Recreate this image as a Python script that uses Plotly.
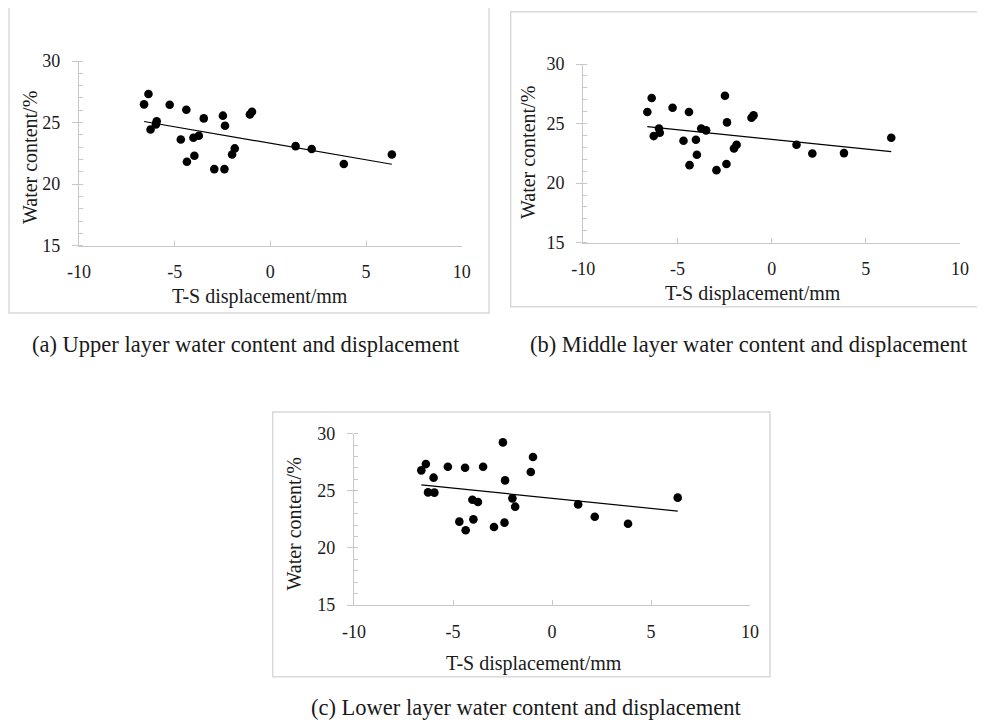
import numpy as np
import plotly.graph_objects as go

# ---- data ----
displacement = [-6.60, -6.37, -6.26, -5.98, -5.94, -5.26, -4.68, -4.39, -4.36, -4.02,
                -3.97, -3.74, -3.48, -2.93, -2.48, -2.40, -2.37, -2.00, -1.86, -1.07,
                -0.96, 1.32, 2.16, 3.84, 6.35]
upper_wc = [26.48, 27.32, 24.44, 24.85, 25.10, 26.45, 23.63, 26.04, 21.82, 23.77,
            22.30, 23.93, 25.34, 21.22, 25.56, 21.22, 24.74, 22.41, 22.90, 25.66,
            25.88, 23.09, 22.85, 21.63, 22.41]
middle_wc = [25.97, 27.14, 23.95, 24.59, 24.23, 26.33, 23.56, 25.97, 21.51, 23.64,
             22.38, 24.59, 24.43, 21.09, 27.34, 21.60, 25.10, 22.91, 23.22, 25.49,
             25.69, 23.22, 22.49, 22.52, 23.81]
lower_wc = [26.79, 27.34, 24.86, 26.15, 24.84, 27.11, 22.30, 27.02, 21.54, 24.22,
            22.50, 24.02, 27.11, 21.83, 29.24, 22.21, 25.91, 24.34, 23.61, 26.64,
            27.96, 23.81, 22.73, 22.12, 24.40]
x_tickvals = [-10, -5, 0, 5, 10]
x_ticktext = ["-10", "-5", "0", "5", "10"]
y_tickvals = [15, 20, 25, 30]
y_ticktext = ["15", "20", "25", "30"]
captions = ["(a) Upper layer water content and displacement",
            "(b) Middle layer water content and displacement",
            "(c) Lower layer water content and displacement"]
x_title = "T-S displacement/mm"
y_title = "Water content/%"

PAGE_W, PAGE_H = 985, 722
OFF = 8  # default page (body) margin of the html document
W, H = PAGE_W - OFF, PAGE_H - OFF
FONT = "Liberation Serif, Times New Roman, serif"

# panel geometry in page pixels: plot area (x0, x1, ytop, ybot), border box, titles
panels = [
    dict(plot=(79, 461.7, 61, 245.7), box=(9, 489, 7, 313),
         xt=(259.5, 296.5), yt=(30, 158), cap=(246, 344.5)),
    dict(plot=(583.3, 960, 64, 242.7), box=(510.7, 984, 11.7, 306.7),
         xt=(753, 293), yt=(528, 153), cap=(749, 344.5)),
    dict(plot=(354, 750, 433.7, 605), box=(272.7, 770, 412, 676.7),
         xt=(534, 663), yt=(293, 524.5), cap=(526, 707)),
]
series = [upper_wc, middle_wc, lower_wc]

fig = go.Figure()
layout = dict(width=W, height=H,
              margin=dict(l=0, r=0, t=0, b=0, pad=0, autoexpand=False),
              paper_bgcolor="white", plot_bgcolor="white", showlegend=False,
              font=dict(family=FONT, color="#1a1a1a"))
shapes, annotations = [], []

def px(x):
    return (x - OFF) / W

def py(y):
    return 1 - (y - OFF) / H

for i, (p, ys) in enumerate(zip(panels, series)):
    n = "" if i == 0 else str(i + 1)
    xa, ya = "x" + n, "y" + n
    x = np.array(displacement)
    y = np.array(ys)
    fig.add_trace(go.Scatter(x=x, y=y, mode="markers", xaxis=xa, yaxis=ya,
                             marker=dict(size=8.6, color="black")))
    k, b = np.polyfit(x, y, 1)
    xl = np.array([x.min(), x.max()])
    fig.add_trace(go.Scatter(x=xl, y=k * xl + b, mode="lines", xaxis=xa, yaxis=ya,
                             line=dict(color="black", width=1.2)))
    x0, x1, yt, yb = p["plot"]
    layout["xaxis" + n] = dict(domain=[px(x0), px(x1)], range=[-10, 10],
                               tickmode="array", tickvals=x_tickvals, ticktext=x_ticktext,
                               anchor=ya, showgrid=False, zeroline=False,
                               automargin=False,
                               showline=True, linecolor="#c8c8c8", linewidth=1.3,
                               ticks="inside", ticklen=5, tickcolor="#c8c8c8",
                               tickfont=dict(size=18, family=FONT, color="#1a1a1a"),
                               ticklabelstandoff=10)
    layout["yaxis" + n] = dict(domain=[py(yb), py(yt)], range=[15, 30],
                               tickmode="array", tickvals=y_tickvals, ticktext=y_ticktext,
                               anchor=xa, showgrid=False, zeroline=False,
                               automargin=False,
                               showline=True, linecolor="#c8c8c8", linewidth=1.3,
                               ticks="outside", ticklen=6, tickcolor="#c8c8c8",
                               minor=dict(dtick=1, ticks="inside", ticklen=4,
                                          tickcolor="#c8c8c8"),
                               tickfont=dict(size=18, family=FONT, color="#1a1a1a"),
                               ticklabelstandoff=8)
    bx0, bx1, by0, by1 = p["box"]
    shapes.append(dict(type="rect", xref="paper", yref="paper",
                       x0=px(bx0), x1=px(bx1), y0=py(by1), y1=py(by0),
                       line=dict(color="#d9d9d9", width=1.5)))
    annotations.append(dict(text=x_title, xref="paper", yref="paper",
                            x=px(p["xt"][0]), y=py(p["xt"][1]), showarrow=False,
                            xanchor="center", yanchor="middle",
                            font=dict(size=20, family=FONT, color="#1a1a1a")))
    annotations.append(dict(text=y_title, xref="paper", yref="paper", textangle=-90,
                            x=px(p["yt"][0]), y=py(p["yt"][1]), showarrow=False,
                            xanchor="center", yanchor="middle",
                            font=dict(size=20, family=FONT, color="#1a1a1a")))
    annotations.append(dict(text=captions[i], xref="paper", yref="paper",
                            x=px(p["cap"][0]), y=py(p["cap"][1]), showarrow=False,
                            xanchor="center", yanchor="middle",
                            font=dict(size=22.5, family=FONT, color="#1a1a1a")))

layout["shapes"] = shapes
layout["annotations"] = annotations
fig.update_layout(**layout)
fig.write_html("out.html")
